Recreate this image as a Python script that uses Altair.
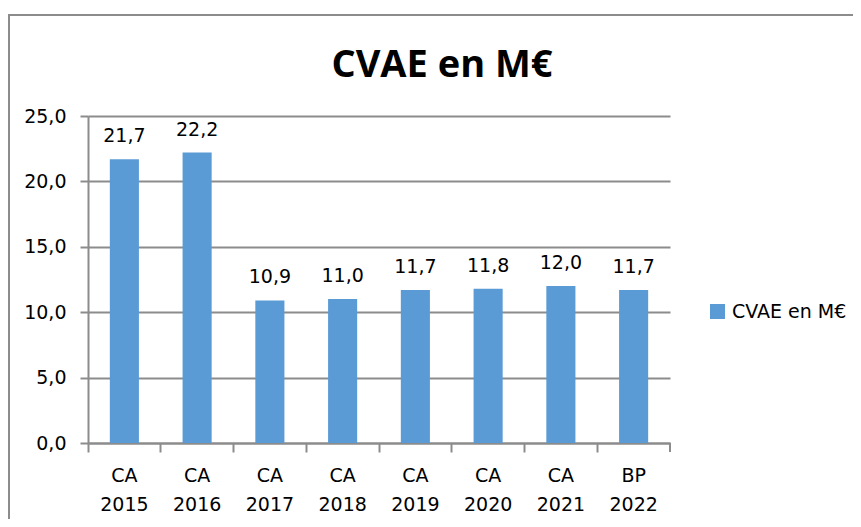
import altair as alt
import pandas as pd

categories = ["CA 2015", "CA 2016", "CA 2017", "CA 2018", "CA 2019", "CA 2020", "CA 2021", "BP 2022"]
values = [21.7, 22.2, 10.9, 11.0, 11.7, 11.8, 12.0, 11.7]
series_name = "CVAE en M€"
y_ticks = [0, 5, 10, 15, 20, 25]

df = pd.DataFrame({
    "cat": categories,
    "val": values,
    "series": [series_name] * len(values),
    "lab": [f"{v:.1f}".replace(".", ",") for v in values],
})

GRAY = "#8c8c8c"
BLUE = "#5B9BD5"
FONT = "DejaVu Sans"
W, H = 582, 327

base = alt.Chart(df)

x_enc = alt.X(
    "cat:N", sort=None, title=None,
    scale=alt.Scale(paddingInner=0, paddingOuter=0),
    axis=alt.Axis(
        labelAngle=0, labelExpr="split(datum.label, ' ')",
        labelFont=FONT, labelFontSize=19, labelColor="black", labelLineHeight=29,
        labelPadding=14, tickSize=9, tickColor=GRAY, tickWidth=2,
        domainColor=GRAY, domainWidth=2, bandPosition=0, grid=False,
    ),
)
y_enc = alt.Y(
    "val:Q", title=None,
    scale=alt.Scale(domain=[0, 25], nice=False),
    axis=alt.Axis(
        values=y_ticks, labelExpr="replace(format(datum.value, '.1f'), '.', ',')",
        labelFont=FONT, labelFontSize=19, labelColor="black", labelPadding=14,
        tickSize=8, tickColor=GRAY, tickWidth=2, domainColor=GRAY, domainWidth=2,
        grid=True, gridColor=GRAY, gridWidth=2,
    ),
)

bars = base.mark_bar(width=alt.RelativeBandSize(0.4)).encode(
    x=x_enc, y=y_enc,
    color=alt.Color(
        "series:N", scale=alt.Scale(range=[BLUE]),
        legend=alt.Legend(
            title=None, orient="none", legendX=620, legendY=186,
            symbolType="square", symbolSize=225, symbolStrokeWidth=0,
            labelFont=FONT, labelFontSize=19, labelColor="black", labelOffset=5,
        ),
    ),
)

labels = base.mark_text(baseline="alphabetic", dy=-17, font=FONT, fontSize=19, color="black").encode(
    x=alt.X("cat:N", sort=None), y="val:Q", text="lab:N"
)

one = alt.Chart(pd.DataFrame({"t": [series_name]}))
title_txt = one.mark_text(font="Open Sans", fontSize=38, fontWeight="bold", color="black",
                          align="center", baseline="alphabetic").encode(
    x=alt.value(354), y=alt.value(-39), text="t:N"
)
right_tick = one.mark_rule(color=GRAY, strokeWidth=2).encode(
    x=alt.value(W), y=alt.value(H), y2=alt.value(H + 9)
)
frame_left = one.mark_rule(color=GRAY, strokeWidth=2).encode(
    x=alt.value(-79), y=alt.value(-102), y2=alt.value(H + 90)
)
frame_top = one.mark_rule(color=GRAY, strokeWidth=2).encode(
    x=alt.value(-80), x2=alt.value(W + 200), y=alt.value(-101)
)

chart = alt.layer(frame_left, frame_top, bars, labels, right_tick, title_txt).properties(
    width=W, height=H,
    autosize=alt.AutoSizeParams(type="none"),
    padding={"left": 80, "top": 108, "right": 183, "bottom": 76},
    background="white",
).configure_view(stroke=None)

chart.save("out.html", embed_options={"renderer": "svg", "actions": False})
